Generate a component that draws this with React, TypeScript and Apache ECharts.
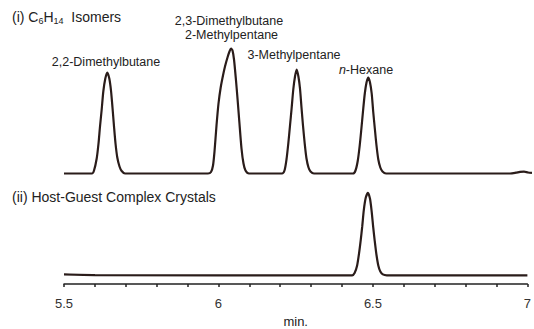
import React, { useEffect, useRef } from "react";
import * as echarts from "echarts";

// (i) C6H14 isomer mixture – retention time (min) and detector signal
const isomerTimes = [
  5.5,
  5.5897, 5.5962, 5.6048, 5.6106, 5.6154, 5.6208, 5.626, 5.6324, 5.6388, 5.6452, 5.6506, 5.6554, 5.6603, 5.6651, 5.6708, 5.6779, 5.6849, 5.6955,
  5.9615, 5.9712, 5.9776, 5.9824, 5.9888, 5.9952, 6.0022, 6.0096, 6.016, 6.024, 6.0304, 6.0353, 6.0401, 6.0449, 6.0513, 6.0561, 6.0619, 6.0689, 6.0753, 6.0817, 6.0929,
  6.1987, 6.2067, 6.2131, 6.2189, 6.2244, 6.2295, 6.2349, 6.2404, 6.2458, 6.2513, 6.2564, 6.2612, 6.266, 6.2715, 6.2772, 6.2837, 6.2901, 6.3013,
  6.4263, 6.4343, 6.4417, 6.4478, 6.4529, 6.4583, 6.4641, 6.4696, 6.4753, 6.4808, 6.4862, 6.491, 6.4962, 6.5016, 6.5074, 6.5138, 6.5208, 6.5321,
  6.9295, 6.9487, 6.9615, 6.9744, 6.9872, 7.0,
];
const isomerSignal = [
  0,
  0, 3, 15, 30, 47, 64, 82, 95, 101, 95, 83, 66, 47, 30, 16, 7, 2.5, 0,
  0, 1.5, 8, 22, 48, 70, 86, 98, 107, 116, 122, 125, 123, 114, 93, 75, 52, 25, 10, 3, 0,
  0, 3, 14, 30, 48, 65, 84, 97, 104, 97, 85, 66, 48, 30, 15, 6, 2, 0,
  0, 3, 13, 28, 44, 62, 80, 91, 96, 91, 80, 62, 45, 28, 14, 6, 2, 0,
  0, 0.8, 1.6, 1.8, 1.0, 0.6,
];

// (ii) Host-guest complex crystals
const crystalTimes = [
  5.5, 5.6,
  6.4327, 6.4407, 6.4487, 6.4551, 6.4606, 6.4654, 6.4705, 6.4769, 6.484, 6.4904, 6.4958, 6.501, 6.5058, 6.5112, 6.5176, 6.524, 6.5321, 6.5449,
  7.0,
];
const crystalSignal = [
  1, 0.3,
  0, 2.5, 10, 23, 37, 51, 68, 81, 86, 80, 67, 50, 36, 22, 10, 4, 1, 0,
  0,
];

const tickLabels = ["5.5", "6", "6.5", "7"];
const peakNames = [
  "2,2-Dimethylbutane",
  "2,3-Dimethylbutane",
  "2-Methylpentane",
  "3-Methylpentane",
  "n-Hexane",
];

const FONT = "'Liberation Sans', Arial, sans-serif";
const LINE = "#2a1c1a";
const TEXT = "#222";

export default function App() {
  const ref = useRef<HTMLDivElement>(null);

  useEffect(() => {
    document.body.style.margin = "0";
    if (!ref.current) return;
    const chart = echarts.init(ref.current, undefined, { renderer: "svg" });

    const isomerData = isomerTimes.map((t, i) => [t, isomerSignal[i]]);
    const crystalData = crystalTimes.map((t, i) => [t, crystalSignal[i]]);

    const label = (text: string, x: number, y: number, italicFirst = false) =>
      italicFirst
        ? {
            type: "text",
            x,
            y,
            style: {
              text: "{i|" + text.slice(0, 1) + "}" + text.slice(1),
              fontFamily: FONT,
              fontSize: 12.5,
              fill: TEXT,
              align: "center",
              verticalAlign: "middle",
              rich: { i: { fontStyle: "italic", fontFamily: FONT, fontSize: 12.5, fill: TEXT } },
            },
          }
        : {
            type: "text",
            x,
            y,
            style: {
              text,
              fontFamily: FONT,
              fontSize: 12.5,
              fill: TEXT,
              align: "center",
              verticalAlign: "middle",
            },
          };

    const tickStyle = { color: "#222", width: 1.5 };

    chart.setOption({
      animation: false,
      backgroundColor: "#fff",
      grid: [
        { left: 64, right: 2, top: 39.5, height: 140 },
        { left: 64, right: 2, top: 188, height: 100 },
      ],
      xAxis: [
        { gridIndex: 0, type: "value", min: 5.5, max: 7, show: false },
        {
          gridIndex: 1,
          type: "value",
          min: 5.5,
          max: 7,
          interval: 0.5,
          axisLine: { show: true, onZero: false, lineStyle: { color: "#222", width: 1.5 } },
          axisTick: { show: true, length: 3, lineStyle: tickStyle },
          minorTick: { show: true, splitNumber: 5, length: 3, lineStyle: tickStyle },
          splitLine: { show: false },
          minorSplitLine: { show: false },
          axisLabel: {
            fontFamily: FONT,
            fontSize: 13,
            color: "#333",
            margin: 13,
            formatter: (v: number) =>
              tickLabels.find((t) => Math.abs(parseFloat(t) - v) < 1e-6) ?? "",
          },
          name: "min.",
          nameLocation: "middle",
          nameGap: 31,
          nameTextStyle: { fontFamily: FONT, fontSize: 13, color: TEXT },
        },
      ],
      yAxis: [
        { gridIndex: 0, type: "value", min: -6, max: 134, show: false },
        { gridIndex: 1, type: "value", min: -9, max: 91, show: false },
      ],
      series: [
        {
          type: "line",
          xAxisIndex: 0,
          yAxisIndex: 0,
          data: isomerData,
          showSymbol: false,
          smooth: 0.25,
          lineStyle: { color: LINE, width: 2.2 },
        },
        {
          type: "line",
          xAxisIndex: 1,
          yAxisIndex: 1,
          data: crystalData,
          showSymbol: false,
          smooth: 0.25,
          lineStyle: { color: LINE, width: 2.2 },
        },
      ],
      graphic: [
        {
          type: "text",
          x: 12,
          y: 17,
          style: {
            text: "{m|(i) C}{s|6}{m|H}{s|14}{m|  Isomers}",
            fontFamily: FONT,
            fontSize: 14,
            fill: TEXT,
            verticalAlign: "middle",
            rich: {
              m: { fontFamily: FONT, fontSize: 14, lineHeight: 16, fill: TEXT, verticalAlign: "middle" },
              s: { fontFamily: FONT, fontSize: 9, lineHeight: 9, fill: TEXT, verticalAlign: "bottom" },
            },
          },
        },
        {
          type: "text",
          x: 12,
          y: 197,
          style: {
            text: "(ii) Host-Guest Complex Crystals",
            fontFamily: FONT,
            fontSize: 14,
            fill: TEXT,
            verticalAlign: "middle",
          },
        },
        label(peakNames[0], 106, 62),
        label(peakNames[1], 229, 21),
        label(peakNames[2], 231.5, 35),
        label(peakNames[3], 294, 55),
        label(peakNames[4], 366, 69.5, true),
      ],
    });

    return () => chart.dispose();
  }, []);

  return <div ref={ref} style={{ width: 534, height: 329 }} />;
}
